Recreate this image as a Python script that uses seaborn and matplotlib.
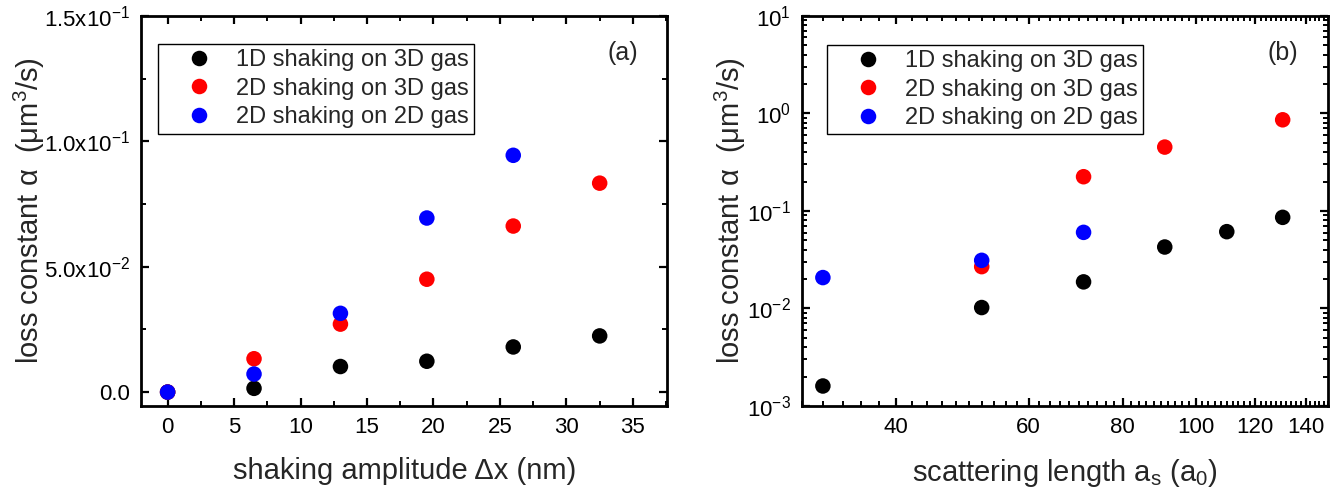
import matplotlib
matplotlib.use("Agg")
import matplotlib.pyplot as plt
from matplotlib.ticker import FixedLocator, FixedFormatter, MultipleLocator, LogLocator, LogFormatterMathtext, NullFormatter
import numpy as np
import pandas as pd
import seaborn as sns

# ---- data ----
series_names = ["1D shaking on 3D gas", "2D shaking on 3D gas", "2D shaking on 2D gas"]
series_colors = ["#000000", "#ff0000", "#0000ff"]

# (a) loss constant vs shaking amplitude
amp_1d3d = [0.0, 6.5, 13.0, 19.5, 26.0, 32.5]
loss_1d3d = [0.0, 0.0015, 0.0102, 0.0123, 0.0180, 0.0224]
amp_2d3d = [0.0, 6.5, 13.0, 19.5, 26.0, 32.5]
loss_2d3d = [0.0, 0.0133, 0.0271, 0.0450, 0.0662, 0.0833]
amp_2d2d = [0.0, 6.5, 13.0, 19.5, 26.0]
loss_2d2d = [0.0, 0.0072, 0.0314, 0.0694, 0.0944]

# (b) loss constant vs scattering length
as_1d3d = [32.0, 52.0, 71.0, 91.0, 110.0, 130.5]
lossb_1d3d = [0.0016, 0.0102, 0.0187, 0.0426, 0.0612, 0.0858]
as_2d3d = [52.0, 71.0, 91.0, 130.5]
lossb_2d3d = [0.0268, 0.224, 0.451, 0.859]
as_2d2d = [32.0, 52.0, 71.0]
lossb_2d2d = [0.0207, 0.0311, 0.0602]

a_yticks = [0.0, 0.05, 0.10, 0.15]
a_yticklabels = ["0.0", r"5.0x10$^{-2}$", r"1.0x10$^{-1}$", r"1.5x10$^{-1}$"]
a_xticks = [0, 5, 10, 15, 20, 25, 30, 35]
b_xticks = [40, 60, 80, 100, 120, 140]


def frame(xs, ys):
    rows = []
    for name, x, y in zip(series_names, xs, ys):
        for xi, yi in zip(x, y):
            rows.append({"x": xi, "y": yi, "series": name})
    return pd.DataFrame(rows)


df_a = frame([amp_1d3d, amp_2d3d, amp_2d2d], [loss_1d3d, loss_2d3d, loss_2d2d])
df_b = frame([as_1d3d, as_2d3d, as_2d2d], [lossb_1d3d, lossb_2d3d, lossb_2d2d])

sns.set_theme(style="ticks")
plt.rcParams["font.family"] = ["Liberation Sans", "DejaVu Sans"]
plt.rcParams["mathtext.fontset"] = "custom"
plt.rcParams["mathtext.rm"] = "Liberation Sans"
plt.rcParams["mathtext.it"] = "Liberation Sans:italic"
plt.rcParams["mathtext.default"] = "regular"

palette = dict(zip(series_names, series_colors))

fig = plt.figure(figsize=(13.43, 4.95), dpi=100)
ax_a = fig.add_axes([0.105, 0.180, 0.392, 0.788])
ax_b = fig.add_axes([0.597, 0.180, 0.392, 0.788])

for ax, df in ((ax_a, df_a), (ax_b, df_b)):
    sns.scatterplot(data=df, x="x", y="y", hue="series", hue_order=series_names,
                    palette=palette, s=125, linewidth=0, ax=ax, zorder=3)

# ---- panel (a) ----
ax_a.set_xlim(-2.0, 37.6)
ax_a.set_ylim(-0.0055, 0.15)
ax_a.xaxis.set_major_locator(FixedLocator(a_xticks))
ax_a.xaxis.set_minor_locator(MultipleLocator(2.5))
ax_a.yaxis.set_major_locator(FixedLocator(a_yticks))
ax_a.yaxis.set_major_formatter(FixedFormatter(a_yticklabels))
ax_a.yaxis.set_minor_locator(MultipleLocator(0.025))
ax_a.set_xlabel("shaking amplitude Δx (nm)", fontsize=21, labelpad=14)
ax_a.set_ylabel(r"loss constant α  (μm$^3$/s)", fontsize=21, labelpad=-2)
ax_a.text(0.945, 0.904, "(a)", transform=ax_a.transAxes, fontsize=18, ha="right", va="center")

# ---- panel (b) ----
ax_b.set_xscale("log")
ax_b.set_yscale("log")
ax_b.set_xlim(30, 150)
ax_b.set_ylim(1e-3, 1e1)
ax_b.xaxis.set_major_locator(FixedLocator(b_xticks))
ax_b.xaxis.set_major_formatter(FixedFormatter([str(v) for v in b_xticks]))
ax_b.xaxis.set_minor_locator(MultipleLocator(2))
ax_b.xaxis.set_minor_formatter(NullFormatter())
ax_b.yaxis.set_major_locator(LogLocator(base=10, numticks=10))
ax_b.yaxis.set_major_formatter(LogFormatterMathtext())
ax_b.yaxis.set_minor_locator(LogLocator(base=10, subs=np.arange(2, 10), numticks=10))
ax_b.yaxis.set_minor_formatter(NullFormatter())
ax_b.set_xlabel(r"scattering length a$_s$ (a$_0$)", fontsize=21, labelpad=14)
ax_b.set_ylabel(r"loss constant α  (μm$^3$/s)", fontsize=21, labelpad=-1)
ax_b.text(0.943, 0.904, "(b)", transform=ax_b.transAxes, fontsize=18, ha="right", va="center")

legend_anchor = {ax_a: (0.032, 0.928), ax_b: (0.048, 0.926)}

for ax in (ax_a, ax_b):
    for sp in ax.spines.values():
        sp.set_linewidth(2.0)
        sp.set_color("black")
    ax.tick_params(which="both", direction="in", top=True, right=True,
                   colors="black", labelsize=16, pad=8)
    ax.tick_params(which="major", length=6, width=1.6)
    ax.tick_params(which="minor", length=3.5, width=1.4)
    leg = ax.legend(loc="upper left", bbox_to_anchor=legend_anchor[ax], fontsize=17,
                    frameon=True, fancybox=False, framealpha=1, borderpad=0.22,
                    handletextpad=0.05, labelspacing=0.28, markerscale=1.0,
                    handlelength=3.05, borderaxespad=0)
    leg.get_frame().set_edgecolor("black")
    leg.get_frame().set_linewidth(1.0)

fig.savefig("out.png", dpi=100)
